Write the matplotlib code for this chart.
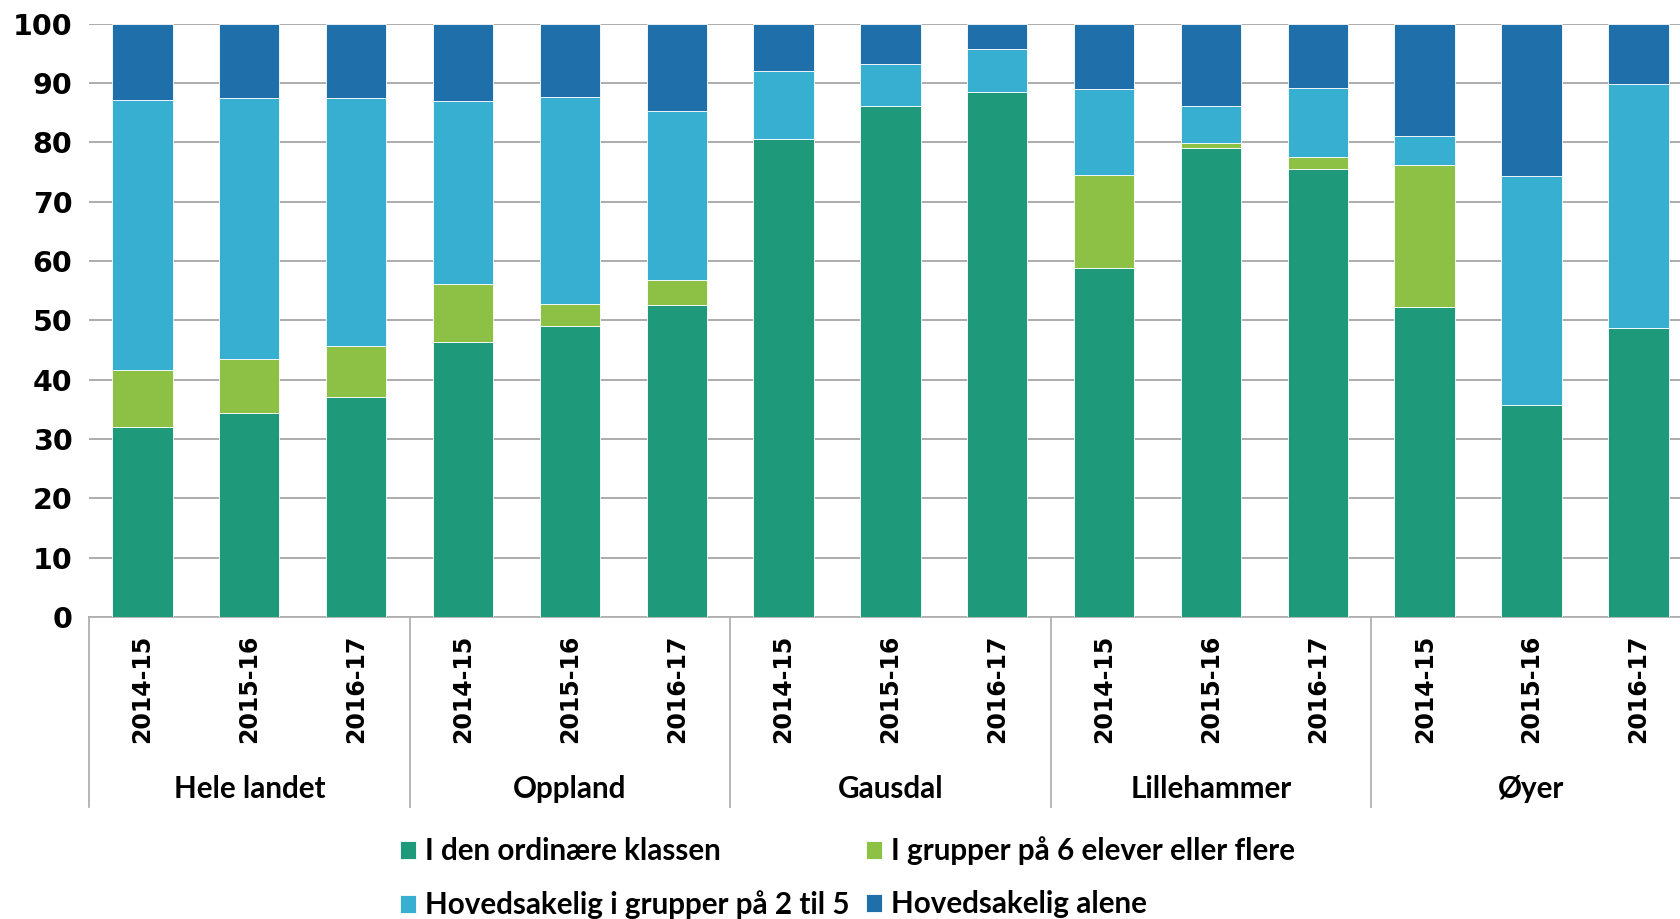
import matplotlib
matplotlib.use("Agg")
import matplotlib.pyplot as plt
from matplotlib.lines import Line2D
import numpy as np

groups = ["Hele landet", "Oppland", "Gausdal", "Lillehammer", "Øyer"]
years = ["2014-15", "2015-16", "2016-17"]

# percent shares per bar, ordered group by group
ordinaer = [32.1, 34.4, 37.1, 46.3, 49.0, 52.5, 80.6, 86.1, 88.5, 58.9, 79.0, 75.5, 52.3, 35.8, 48.7]
grupper6 = [9.6, 9.0, 8.6, 9.8, 3.8, 4.3, 0, 0, 0, 15.6, 0.8, 2.1, 23.8, 0, 0]
grupper2_5 = [45.4, 44.0, 41.7, 30.8, 34.8, 28.4, 11.4, 7.1, 7.2, 14.5, 6.3, 11.6, 4.9, 38.6, 41.1]
alene = [12.9, 12.6, 12.6, 13.1, 12.4, 14.8, 8.0, 6.8, 4.3, 11.0, 13.9, 10.8, 19.0, 25.6, 10.2]

series = [
    ("I den ordinære klassen", ordinaer, "#1e9a7a"),
    ("I grupper på 6 elever eller flere", grupper6, "#8cc145"),
    ("Hovedsakelig i grupper på 2 til 5", grupper2_5, "#36afd0"),
    ("Hovedsakelig alene", alene, "#1e6faa"),
]

fig = plt.figure(figsize=(16.8, 9.19), dpi=100)
ax = fig.add_axes([0.053, 0.3286, 0.947, 0.6457])

x = np.arange(len(groups) * len(years))
bottom = np.zeros(len(x))
handles = {}
for name, vals, col in series:
    vals = np.array(vals)
    b = ax.bar(x, vals, 0.565, bottom=bottom, color=col, edgecolor="white",
               linewidth=0.6, label=name, zorder=3)
    handles[name] = b
    bottom += vals

ax.set_ylim(0, 100)
ax.set_xlim(-0.5, 14.39)
ax.set_yticks(range(0, 101, 10))
ax.yaxis.grid(True, color="#a6a6a6", linewidth=1.3, zorder=0)
ax.set_axisbelow(True)
for s in ["top", "right", "left"]:
    ax.spines[s].set_visible(False)
ax.spines["bottom"].set_color("#b0b0b0")
ax.spines["bottom"].set_linewidth(1.3)
ax.tick_params(axis="y", length=0, pad=12, labelsize=20.5)
ax.tick_params(axis="x", length=0, pad=13, labelsize=17)
for lab in ax.get_yticklabels():
    lab.set_fontweight("bold")

ax.set_xticks(x)
ax.set_xticklabels(years * len(groups), rotation=90, fontweight="bold")

# group separators and group names under the year labels
trans = ax.get_xaxis_transform()
for i in range(len(groups) + 1):
    xs = i * 3 - 0.5
    if xs > 14.39:
        continue
    ax.add_line(Line2D([xs, xs], [0, -0.32], transform=trans, color="#b0b0b0",
                       linewidth=1.3, clip_on=False))
for i, g in enumerate(groups):
    ax.text(i * 3 + 1, -0.29, g, transform=trans, ha="center", va="center",
            fontsize=21.3, fontweight="bold", family="Lato")

order = ["I den ordinære klassen", "Hovedsakelig i grupper på 2 til 5",
         "I grupper på 6 elever eller flere", "Hovedsakelig alene"]
fig.legend([handles[n] for n in order], order, ncol=2, loc="upper left",
           bbox_to_anchor=(0.238, 0.090), bbox_transform=fig.transFigure,
           frameon=False, prop={"family": "Lato", "weight": "bold", "size": 21.3},
           handlelength=0.55, handleheight=0.55, handletextpad=0.3,
           columnspacing=0.55, labelspacing=0.85, borderaxespad=0, borderpad=0)

fig.savefig("out.png", dpi=100)
